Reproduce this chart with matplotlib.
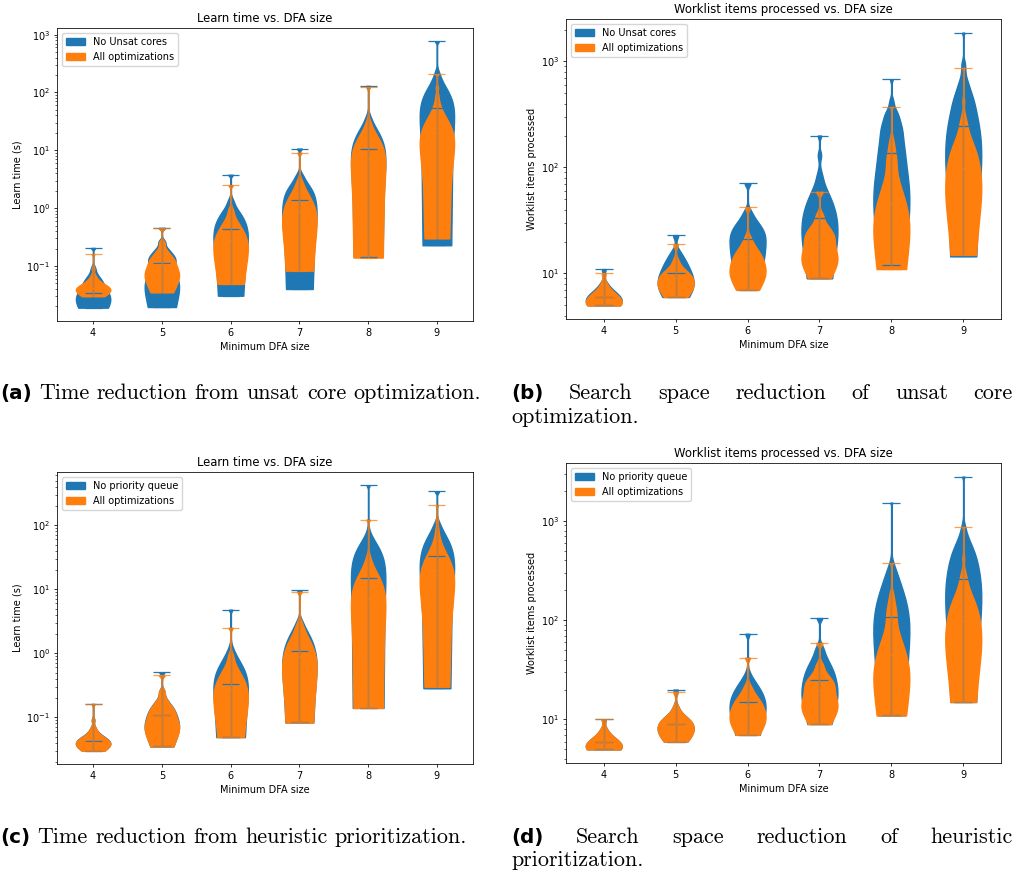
import numpy as np
import matplotlib
matplotlib.use('Agg')
import matplotlib.pyplot as plt
from matplotlib.patches import Patch

W, H, DPI = 1015, 874, 100

categories = [4, 5, 6, 7, 8, 9]
tick_labels = ['4', '5', '6', '7', '8', '9']

# ---- Learn time (s) ----
time_all_opt = [
    [0.030, 0.031, 0.032, 0.033, 0.034, 0.035, 0.036, 0.037, 0.038, 0.039, 0.040, 0.041,
     0.042, 0.043, 0.044, 0.046, 0.048, 0.050, 0.053, 0.057, 0.062, 0.070, 0.090, 0.160],
    [0.035, 0.045, 0.055, 0.062, 0.068, 0.075, 0.085, 0.108, 0.115, 0.125, 0.140, 0.160, 0.190, 0.250, 0.450],
    [0.049, 0.070, 0.090, 0.120, 0.150, 0.190, 0.230, 0.280, 0.320, 0.370, 0.440, 0.520, 0.650, 0.900, 2.500],
    [0.083, 0.130, 0.200, 0.300, 0.400, 0.500, 0.650, 0.900, 1.000, 1.200, 1.400, 1.700, 2.100, 2.800, 9.100],
    [0.140, 0.500, 1.000, 1.600, 2.500, 3.500, 5.000, 7.000, 8.500, 10.00, 12.00, 15.00, 19.00, 28.00, 123.0],
    [0.30, 0.30, 1.0, 2.0, 3.5, 5.0, 6.5, 8.0, 9.5, 11.0, 12.5, 14.0, 15.5, 17.0, 18.5, 20.0,
     22.0, 24.0, 26.0, 28.5, 31.0, 34.0, 37.0, 41.0, 46.0, 52.0, 60.0, 72.0, 90.0, 120.0, 208.0],
]
time_no_unsat = [
    [0.019, 0.020, 0.021, 0.022, 0.023, 0.025, 0.027, 0.030, 0.034, 0.042, 0.045, 0.049,
     0.054, 0.060, 0.070, 0.090, 0.205],
    [0.0195, 0.025, 0.032, 0.040, 0.050, 0.065, 0.085, 0.114, 0.120, 0.130, 0.150, 0.170, 0.200, 0.260, 0.456],
    [0.0306, 0.060, 0.100, 0.150, 0.220, 0.300, 0.380, 0.444, 0.500, 0.580, 0.680, 0.800, 0.950, 1.300, 3.780],
    [0.040, 0.100, 0.200, 0.350, 0.550, 0.800, 1.100, 1.360, 1.500, 1.700, 2.000, 2.300, 2.800, 3.600, 10.70],
    [0.143, 0.600, 1.200, 2.000, 3.000, 4.500, 7.000, 10.70, 12.00, 14.00, 17.00, 20.00, 25.00, 35.00, 130.0],
    [0.228, 2.000, 5.000, 10.00, 18.00, 28.00, 40.00, 54.00, 62.00, 75.00, 90.00, 110.0, 140.0, 200.0, 766.0],
]
time_no_prio = [
    [0.030, 0.031, 0.032, 0.033, 0.034, 0.035, 0.036, 0.037, 0.038, 0.039, 0.040, 0.042,
     0.043, 0.044, 0.045, 0.046, 0.048, 0.050, 0.053, 0.057, 0.062, 0.070, 0.090, 0.162],
    [0.035, 0.045, 0.055, 0.062, 0.068, 0.075, 0.085, 0.109, 0.115, 0.125, 0.140, 0.160, 0.190, 0.250, 0.505],
    [0.049, 0.070, 0.090, 0.120, 0.160, 0.200, 0.260, 0.330, 0.380, 0.440, 0.520, 0.620, 0.780, 1.050, 4.800],
    [0.083, 0.130, 0.200, 0.300, 0.420, 0.550, 0.750, 1.100, 1.200, 1.350, 1.600, 1.900, 2.300, 3.000, 9.600],
    [0.140, 1.000, 2.000, 3.500, 5.500, 8.000, 11.00, 14.80, 17.00, 20.00, 24.00, 30.00, 38.00, 50.00, 422.0],
    [0.284, 1.500, 4.000, 8.000, 13.00, 20.00, 26.00, 33.00, 38.00, 45.00, 52.00, 62.00, 75.00, 100.0, 339.0],
]

# ---- Worklist items processed ----
work_all_opt = [
    [5, 5, 5, 5, 5, 5, 5, 6, 6, 6, 6, 6, 7, 7, 8, 10],
    [6, 6, 7, 7, 7, 8, 8, 9, 9, 9, 10, 10, 11, 13, 19],
    [7, 8, 9, 9, 10, 10, 11, 13, 13, 14, 15, 16, 18, 21, 42],
    [9, 11, 12, 13, 14, 15, 17, 20, 21, 22, 24, 26, 29, 35, 59],
    [11, 11, 11, 11, 12, 13, 14, 15, 17, 19, 21, 23, 25, 27, 29, 31, 33, 35, 38, 41, 44,
     46, 49, 52, 55, 59, 63, 68, 73, 79, 86, 94, 104, 110, 116, 125, 132, 145, 155, 170,
     190, 373],
    [15, 15, 15, 15, 19, 23, 27, 31, 35, 39, 43, 47, 51, 55, 59, 63, 67, 71, 75, 79,
     84, 89, 93, 98, 103, 107, 112, 117, 121, 126, 131, 135, 142, 150, 158, 166, 174,
     182, 190, 205, 223, 241, 259, 277, 320, 420, 875],
]
work_no_unsat = [
    [5, 5, 5, 5, 5, 5, 6, 6, 6, 6, 6, 7, 7, 8, 11],
    [6, 6, 7, 7, 8, 8, 9, 10, 10, 11, 12, 13, 14, 16, 23],
    [7, 9, 11, 13, 15, 17, 19, 21, 22, 24, 26, 28, 31, 37, 71],
    [9, 9, 11, 14, 16, 19, 22, 24, 27, 30, 32, 35, 38, 41, 45, 50, 54, 58, 70, 85, 130, 200],
    [12, 12, 12, 12, 18, 24, 30, 36, 42, 48, 54, 60, 66, 72, 80, 88, 96, 104, 112, 120,
     128, 136, 144, 152, 162, 172, 182, 192, 202, 212, 222, 232, 242, 252, 265, 280, 295,
     310, 325, 340, 380, 430, 680],
    [14.5, 14.5, 14.5, 14.5, 26, 38, 50, 62, 74, 86, 98, 110, 122, 134, 146, 158, 170,
     182, 194, 205, 219, 233, 247, 261, 275, 289, 305, 324, 343, 362, 381, 400, 419, 438,
     457, 476, 510, 547, 584, 621, 658, 760, 870, 980, 1870],
]
work_no_prio = [
    [5, 5, 5, 5, 5, 5, 5, 6, 6, 6, 6, 6, 7, 7, 8, 10],
    [6, 6, 7, 7, 7, 8, 8, 9, 9, 9, 10, 10, 11, 13, 20],
    [7, 8, 9, 10, 11, 12, 13, 15, 16, 17, 18, 20, 22, 26, 73],
    [9, 11, 13, 15, 17, 19, 22, 25, 27, 30, 33, 37, 43, 52, 105],
    [11, 11, 11, 11, 17, 23, 29, 35, 41, 47, 53, 59, 65, 72, 78, 85, 91, 98, 102, 111,
     120, 129, 138, 147, 156, 165, 174, 183, 192, 205, 222, 239, 256, 273, 290, 320, 360,
     1530],
    [15, 15, 15, 15, 30, 45, 60, 75, 90, 105, 120, 135, 150, 165, 180, 195, 210, 225,
     240, 255, 270, 285, 305, 325, 345, 365, 385, 405, 425, 445, 465, 485, 510, 550, 590,
     630, 670, 760, 880, 2790],
]

# KDE bandwidth factors per category (style, not data)
bw_time = [0.25, 0.25, 0.25, 0.25, 0.25, 0.25]
bw_work = [0.5, 0.4, 0.3, 0.28, 0.25, 0.25]

C_BLUE = '#1f77b4'
C_ORANGE = '#ff7f0e'
S = 0.7  # global scale of the original figure

plt.rcParams.update({
    'font.family': 'DejaVu Sans',
    'axes.linewidth': 0.8 * S,
    'xtick.major.width': 0.8 * S, 'ytick.major.width': 0.8 * S,
    'ytick.minor.width': 0.6 * S,
    'xtick.major.size': 3.5 * S, 'ytick.major.size': 3.5 * S,
    'ytick.minor.size': 2.0 * S,
    'xtick.major.pad': 3.5 * S, 'ytick.major.pad': 3.5 * S,
    'legend.fontsize': 10 * S,
})

fig = plt.figure(figsize=(W / DPI, H / DPI), dpi=DPI)


def rect(l, t, r, b):
    return [l / W, 1 - b / H, (r - l) / W, (b - t) / H]


def style(vp, color, la):
    for b in vp['bodies']:
        b.set_facecolor(color)
        b.set_edgecolor(color)
        b.set_alpha(1)
    for k in ('cbars', 'cmins', 'cmaxes', 'cmedians'):
        vp[k].set_color(color)
        vp[k].set_alpha(la)
        vp[k].set_linewidth(1.3 * S)


def panel(r, blue, orange, bws, blue_label, title, ylabel):
    ax = fig.add_axes(rect(*r))
    parts = []
    for data, color, la in ((blue, C_BLUE, 1.0), (orange, C_ORANGE, 0.75)):
        for cat, d, bw in zip(categories, data, bws):
            vp = ax.violinplot([d], positions=[cat], widths=0.5,
                               showmedians=True, bw_method=bw)
            style(vp, color, la)
            parts.append(vp)
    # bodies below all statistic lines (as in a single violinplot call)
    for vp in parts:
        for b in vp['bodies']:
            b.set_zorder(1)
        for k in ('cbars', 'cmins', 'cmaxes', 'cmedians'):
            vp[k].set_zorder(2)
    ax.set_yscale('log')
    ax.set_xticks(categories)
    ax.set_xticklabels(tick_labels)
    ax.tick_params(labelsize=10 * S)
    ax.set_title(title, fontsize=12 * S, pad=6 * S)
    ax.set_xlabel('Minimum DFA size', fontsize=10 * S, labelpad=4 * S)
    ax.set_ylabel(ylabel, fontsize=10 * S, labelpad=4 * S)
    handles = [Patch(color=C_BLUE, label=blue_label),
               Patch(color=C_ORANGE, label='All optimizations')]
    ax.legend(handles=handles, loc='upper left')
    return ax


panel((57, 28, 473, 321), time_no_unsat, time_all_opt, bw_time, 'No Unsat cores',
      'Learn time vs. DFA size', 'Learn time (s)')
panel((566, 19, 1001, 319), work_no_unsat, work_all_opt, bw_work, 'No Unsat cores',
      'Worklist items processed vs. DFA size', 'Worklist items processed')
panel((57, 472, 473, 764), time_no_prio, time_all_opt, bw_time, 'No priority queue',
      'Learn time vs. DFA size', 'Learn time (s)')
panel((566, 463, 1001, 763), work_no_prio, work_all_opt, bw_work, 'No priority queue',
      'Worklist items processed vs. DFA size', 'Worklist items processed')

# ---- LaTeX-like subcaptions ----
CAP_FS = 15.9
LBL = dict(family='DejaVu Sans', weight='bold', fontsize=CAP_FS * 0.9)
TXT = dict(family='cmr10', fontsize=CAP_FS)


def fx(x):
    return x / W


def fy(y):
    return 1 - y / H


def caption_line(label, words, x0, y, x1=None):
    items = []
    if label:
        items.append(fig.text(0, 0, label, va='baseline', ha='left', **LBL))
    for w in words:
        items.append(fig.text(0, 0, w, va='baseline', ha='left', **TXT))
    fig.canvas.draw()
    rend = fig.canvas.get_renderer()
    widths = [t.get_window_extent(rend).width for t in items]
    if x1 is None:
        sp = CAP_FS * DPI / 72 * 0.333
    else:
        sp = (x1 - x0 - sum(widths)) / (len(items) - 1)
    x = x0
    for t, wd in zip(items, widths):
        t.set_position((fx(x), fy(y)))
        x += wd + sp


caption_line('(a)', 'Time reduction from unsat core optimization.'.split(), 0, 399)
caption_line('(b)', 'Search space reduction of unsat core'.split(), 511, 399, 1013)
caption_line(None, ['optimization.'], 511, 423)
caption_line('(c)', 'Time reduction from heuristic prioritization.'.split(), 0, 843)
caption_line('(d)', 'Search space reduction of heuristic'.split(), 511, 843, 1013)
caption_line(None, ['prioritization.'], 511, 866)

fig.savefig('out.png', dpi=DPI)
